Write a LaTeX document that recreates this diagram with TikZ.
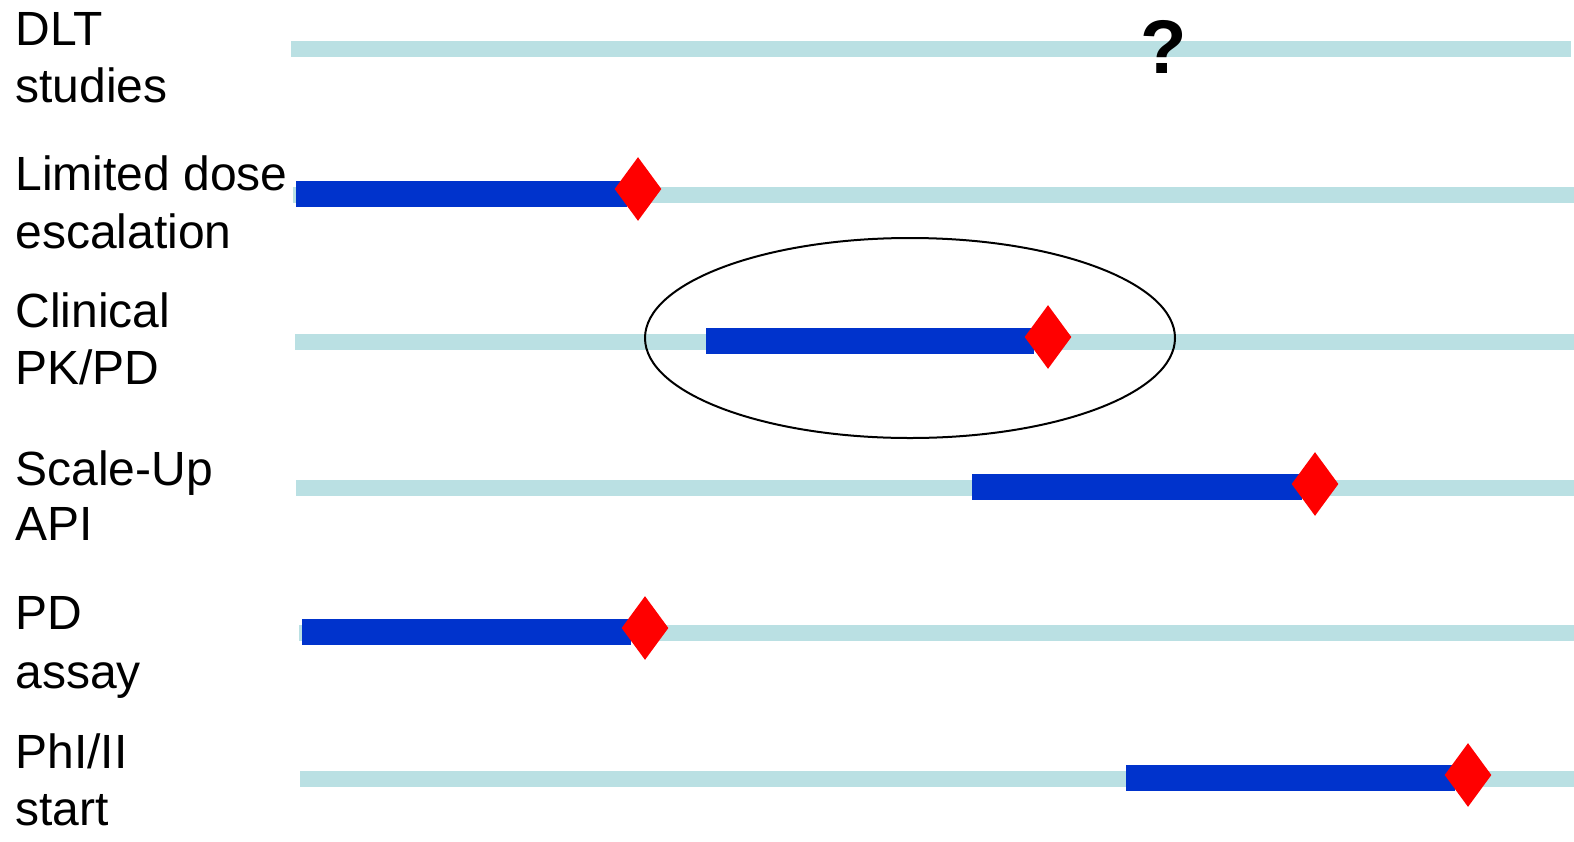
\documentclass[tikz,border=0pt]{standalone}
\usepackage{fontspec}
\setmainfont{Liberation Sans}
\usetikzlibrary{shapes.geometric}
\definecolor{lightbar}{RGB}{186,224,227}
\definecolor{darkbar}{RGB}{0,51,204}
\definecolor{mile}{RGB}{255,0,0}
\begin{document}
\begin{tikzpicture}[x=0.5pt,y=-0.5pt,
  lbl/.style={anchor=base west, inner sep=0, font=\fontsize{24}{29}\selectfont},
  track/.style={draw=lightbar, line width=8pt},
  task/.style={draw=darkbar, line width=13pt},
  milestone/.style={diamond, fill=mile, minimum width=23.5pt, minimum height=32pt, inner sep=0}]
\path[use as bounding box, fill=white] (0,0) rectangle (1574,841);
% labels
\node[lbl] (l1a) at (15,45) {DLT};
\node[lbl] (l1b) at (15,102) {studies};
\node[lbl] (l2a) at (15,190) {Limited dose};
\node[lbl] (l2b) at (15,248) {escalation};
\node[lbl] (l3a) at (15,327) {Clinical};
\node[lbl] (l3b) at (15,384) {PK/PD};
\node[lbl] (l4a) at (15,485) {Scale-Up};
\node[lbl] (l4b) at (15,540) {API};
\node[lbl] (l5a) at (15,629) {PD};
\node[lbl] (l5b) at (15,688) {assay};
\node[lbl] (l6a) at (15,768) {PhI/II};
\node[lbl] (l6b) at (15,825) {start};
% tracks
\coordinate (r1a) at (291,49);  \coordinate (r1b) at (1571,49);
\coordinate (r2a) at (293,195); \coordinate (r2b) at (1574,195);
\coordinate (r3a) at (295,342); \coordinate (r3b) at (1574,342);
\coordinate (r4a) at (296,488); \coordinate (r4b) at (1574,488);
\coordinate (r5a) at (299,633); \coordinate (r5b) at (1574,633);
\coordinate (r6a) at (300,779); \coordinate (r6b) at (1574,779);
\foreach \r in {1,...,6} {\draw[track] (r\r a) -- (r\r b);}
% ellipse
\node[ellipse, draw=black, line width=1pt, minimum width=265pt, minimum height=100pt, inner sep=0] (oval) at (910,338) {};
% tasks
\coordinate (t2a) at (296,194);  \coordinate (t2b) at (627,194);
\coordinate (t3a) at (706,341);  \coordinate (t3b) at (1034,341);
\coordinate (t4a) at (972,487);  \coordinate (t4b) at (1302,487);
\coordinate (t5a) at (302,632);  \coordinate (t5b) at (631,632);
\coordinate (t6a) at (1126,778); \coordinate (t6b) at (1455,778);
\foreach \r in {2,...,6} {\draw[task] (t\r a) -- (t\r b);}
% milestones
\node[milestone] (m2) at (638,189) {};
\node[milestone] (m3) at (1048,337) {};
\node[milestone] (m4) at (1315,484) {};
\node[milestone] (m5) at (645,628) {};
\node[milestone] (m6) at (1468,775) {};
% question mark
\node[inner sep=0, font=\fontsize{38}{40}\selectfont\bfseries] (q) at (1164,47) {?};
\end{tikzpicture}
\end{document}
